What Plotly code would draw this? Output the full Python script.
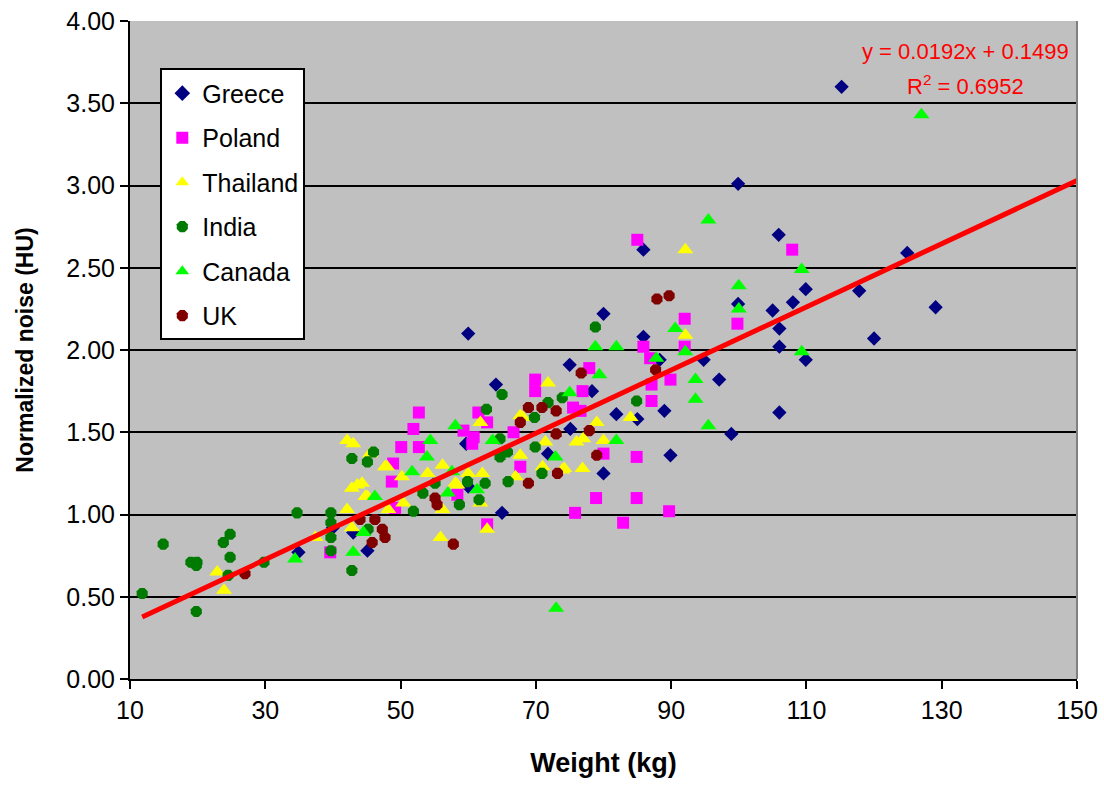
import plotly.graph_objects as go

# ---------------- data ----------------
greece_weight = [115.2, 99.9, 105.9, 85.9, 124.9, 129.1, 109.9, 117.8, 108.0, 99.9, 105.0, 106.0, 120.0,
                 80.0, 85.9, 106.0, 109.9, 94.8, 88.3, 75.0, 97.1, 78.3, 64.1, 60.0, 81.9, 85.0, 89.0, 106.0,
                 75.1, 98.9, 89.9, 80.0, 71.8, 65.0, 60.0, 59.7, 34.9, 45.1, 40.0, 43.0]
greece_noise = [3.60, 3.01, 2.70, 2.61, 2.59, 2.26, 2.37, 2.36, 2.29, 2.28, 2.24, 2.13, 2.07,
                2.22, 2.08, 2.02, 1.94, 1.94, 1.94, 1.91, 1.82, 1.75, 1.79, 2.10, 1.61, 1.58, 1.63, 1.62,
                1.52, 1.49, 1.36, 1.25, 1.37, 1.01, 1.17, 1.43, 0.77, 0.78, 0.92, 0.89]

poland_weight = [85.0, 107.9, 92.0, 99.8, 85.9, 92.0, 86.9, 77.9, 89.9, 76.9, 87.1, 87.1, 75.5, 80.0,
                 84.9, 78.9, 84.9, 75.8, 89.7, 82.9, 69.9, 69.9, 52.7, 51.9, 50.1, 52.7, 61.5, 59.3,
                 60.8, 60.6, 62.8, 48.9, 48.7, 67.7, 62.8, 49.2, 39.6, 58.4, 66.7, 76.6]
poland_noise = [2.67, 2.61, 2.19, 2.16, 2.02, 2.02, 1.95, 1.89, 1.82, 1.75, 1.79, 1.69, 1.65, 1.37,
                1.35, 1.10, 1.10, 1.01, 1.02, 0.95, 1.82, 1.75, 1.62, 1.52, 1.41, 1.41, 1.62, 1.51,
                1.47, 1.43, 1.56, 1.31, 1.20, 1.29, 0.94, 1.04, 0.77, 1.12, 1.50, 1.63]

thailand_weight = [92.1, 92.1, 79.0, 84.0, 76.0, 77.0, 80.0, 74.2, 76.9, 71.8, 71.4, 67.7, 71.0, 73.9,
                   67.0, 68.1, 61.8, 67.7, 60.0, 62.1, 56.2, 50.2, 47.7, 44.3, 44.8, 50.4, 48.2, 56.2,
                   58.4, 61.8, 62.8, 55.9, 42.1, 43.0, 45.5, 48.0, 43.6, 42.8, 45.1, 42.1, 42.8, 37.4,
                   22.9, 23.9, 54.0, 58.1]
thailand_noise = [2.61, 2.09, 1.56, 1.59, 1.44, 1.46, 1.45, 1.28, 1.28, 1.80, 1.44, 1.36, 1.29, 1.27,
                  1.23, 1.59, 1.56, 1.60, 1.25, 1.25, 1.30, 1.23, 1.29, 1.19, 1.11, 1.07, 1.03, 1.03,
                  1.18, 1.07, 0.91, 0.86, 1.45, 1.43, 1.37, 1.29, 1.18, 1.16, 1.11, 1.03, 0.92, 0.86,
                  0.65, 0.54, 1.25, 1.19]

india_weight = [11.8, 14.9, 19.0, 19.8, 19.9, 19.8, 23.8, 24.8, 24.8, 24.5, 29.8, 34.7, 39.7, 39.7,
                39.7, 39.7, 42.8, 42.8, 45.1, 46.0, 62.7, 65.0, 71.8, 73.9, 69.8, 64.7, 65.8, 69.9,
                70.9, 65.9, 62.5, 59.9, 61.6, 58.7, 53.3, 51.9, 78.8, 84.9, 64.7, 55.1, 45.2]
india_noise = [0.52, 0.82, 0.71, 0.69, 0.71, 0.41, 0.83, 0.88, 0.74, 0.63, 0.71, 1.01, 1.01, 0.95,
               0.86, 0.78, 0.66, 1.34, 1.32, 1.38, 1.64, 1.73, 1.68, 1.71, 1.59, 1.35, 1.38, 1.41,
               1.25, 1.20, 1.19, 1.20, 1.09, 1.06, 1.13, 1.02, 2.14, 1.69, 1.46, 1.19, 0.91]

canada_weight = [127.0, 109.3, 109.3, 95.5, 100.0, 100.0, 90.6, 92.1, 87.8, 78.8, 81.9, 79.4, 75.0,
                 93.6, 93.6, 95.5, 81.9, 58.1, 54.4, 63.6, 53.9, 51.7, 57.6, 61.3, 57.0, 46.2, 44.5,
                 72.9, 43.0, 34.4, 73.0]
canada_noise = [3.43, 2.49, 1.99, 2.79, 2.39, 2.25, 2.13, 1.99, 1.95, 2.02, 2.02, 1.85, 1.74,
                1.82, 1.70, 1.54, 1.45, 1.54, 1.45, 1.45, 1.35, 1.26, 1.26, 1.15, 1.13, 1.11, 0.89,
                1.35, 0.77, 0.73, 0.43]

uk_weight = [87.9, 89.7, 76.7, 77.9, 79.0, 68.9, 70.9, 73.0, 67.7, 73.0, 68.9, 73.2, 57.8, 55.1,
             55.4, 46.2, 47.3, 47.7, 45.8, 44.0, 27.0, 87.7]
uk_noise = [2.31, 2.33, 1.86, 1.51, 1.36, 1.65, 1.65, 1.63, 1.56, 1.49, 1.19, 1.25, 0.82, 1.10,
            1.06, 0.97, 0.91, 0.86, 0.83, 0.97, 0.64, 1.88]

trend_slope = 0.0192
trend_intercept = 0.1499
trend_r2 = 0.6952
trend_weight = [11.8, 150.0]

x_ticks = [10, 30, 50, 70, 90, 110, 130, 150]
y_ticks = [0.0, 0.5, 1.0, 1.5, 2.0, 2.5, 3.0, 3.5, 4.0]

# ---------------- figure ----------------
FONT = "Liberation Sans, Arial, sans-serif"
series = [
    ("Greece", greece_weight, greece_noise, "diamond", "#000080", 11),
    ("Poland", poland_weight, poland_noise, "square", "#FF00FF", 12),
    ("Thailand", thailand_weight, thailand_noise, "triangle-up", "#FFFF00", 14),
    ("India", india_weight, india_noise, "octagon", "#007A00", 12),
    ("Canada", canada_weight, canada_noise, "triangle-up", "#00FF00", 14),
    ("UK", uk_weight, uk_noise, "octagon", "#800000", 12),
]

fig = go.Figure()
for name, xs, ys, sym, col, size in series:
    fig.add_trace(go.Scatter(
        x=xs, y=ys, mode="markers", name=name, legendgroup=name,
        marker=dict(symbol=sym, color=col, size=size, line=dict(width=0)),
    ))

fig.add_trace(go.Scatter(
    x=trend_weight,
    y=[trend_slope * w + trend_intercept for w in trend_weight],
    mode="lines", line=dict(color="#FF0000", width=5),
    showlegend=False, hoverinfo="skip",
))

fig.add_annotation(
    xref="paper", yref="paper", x=0.882, y=0.953,
    xanchor="center", yanchor="middle", showarrow=False,
    text=f"y = {trend_slope}x + {trend_intercept}",
    font=dict(family=FONT, size=22, color="#FF0000"),
)
fig.add_annotation(
    xref="paper", yref="paper", x=0.882, y=0.903,
    xanchor="center", yanchor="middle", showarrow=False,
    text=f"R<sup>2</sup> = {trend_r2}",
    font=dict(family=FONT, size=22, color="#FF0000"),
)

# right border of plot area
fig.add_shape(type="line", xref="paper", yref="paper", x0=1, x1=1, y0=0, y1=1,
              line=dict(color="#808080", width=2))

fig.update_layout(
    width=1104, height=787,
    margin=dict(l=130, r=27, t=21, b=108, autoexpand=False),
    paper_bgcolor="white", plot_bgcolor="#C0C0C0",
    font=dict(family=FONT, size=24, color="black"),
    showlegend=True,
    legend=dict(
        x=0.032, y=0.928, xanchor="left", yanchor="top",
        bgcolor="white", bordercolor="black", borderwidth=2,
        font=dict(family=FONT, size=25, color="black"),
        tracegroupgap=9, itemsizing="constant",
        entrywidth=112, entrywidthmode="pixels",
    ),
    xaxis=dict(
        range=[10, 150], tickvals=x_ticks, ticktext=[str(v) for v in x_ticks],
        showgrid=False, zeroline=False, automargin=False,
        showline=True, linecolor="black", linewidth=2,
        ticks="outside", ticklen=8, tickwidth=2, tickcolor="black",
        tickfont=dict(family=FONT, size=25, color="black"),
        title=dict(text="<b>Weight (kg)</b>", font=dict(family=FONT, size=27, color="black"), standoff=30),
    ),
    yaxis=dict(
        range=[0, 4], tickvals=y_ticks, ticktext=[f"{v:.2f}" for v in y_ticks],
        showgrid=True, gridcolor="black", gridwidth=2, zeroline=False, automargin=False,
        showline=True, linecolor="black", linewidth=2,
        ticks="outside", ticklen=8, tickwidth=2, tickcolor="black",
        tickfont=dict(family=FONT, size=25, color="black"),
        title=dict(text="<b>Normalized noise (HU)</b>", font=dict(family=FONT, size=23, color="black"), standoff=26),
    ),
)

fig.write_html("out.html")
